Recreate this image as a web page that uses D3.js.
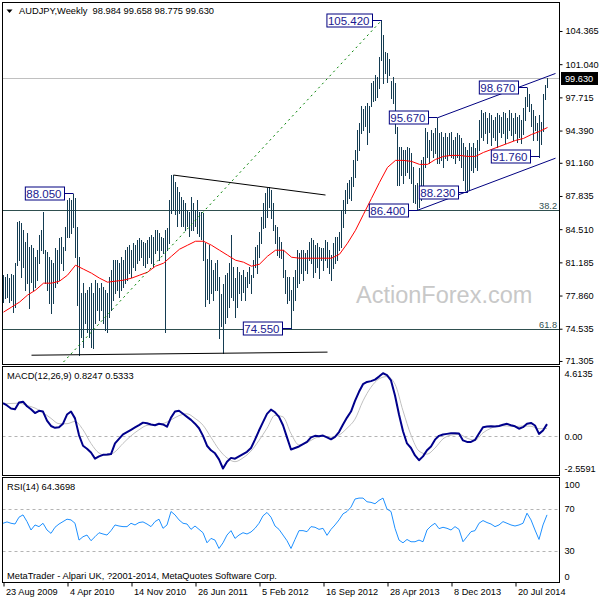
<!DOCTYPE html>
<html>
<head>
<meta charset="utf-8">
<script src="https://cdn.jsdelivr.net/npm/d3@7"></script>
<style>
  body { margin: 0; background: #fff; }
  svg { display: block; font-family: "Liberation Sans", Arial, sans-serif; }
</style>
</head>
<body>
<div id="chart"></div>
<script>
// weekly AUDJPY bars, one per week starting 23 Aug 2009
const highs = [
  79.92, 79.75, 80.02, 79.58, 80.02, 79.92, 81.08, 85.26, 85.36, 85.09,
  84.42, 83.26, 84.09, 82.75, 82.92, 82.59, 81.75, 82.42, 83.92, 84.42,
  86.26, 82.42, 82.25, 81.75, 81.42, 81.08, 82.59, 82.42, 83.59, 83.76,
  82.75, 84.76, 87.43, 87.60, 87.43, 88.05, 87.60, 84.76, 81.75, 78.08,
  79.08, 78.08, 78.41, 78.75, 79.08, 78.08, 79.41, 79.08, 78.58, 79.08,
  78.75, 78.41, 78.08, 79.75, 80.42, 81.42, 81.42, 81.42, 81.08, 81.75,
  81.42, 82.42, 82.75, 82.92, 82.42, 83.09, 82.92, 83.42, 83.59, 83.42,
  83.26, 83.09, 83.42, 83.76, 83.92, 83.69, 84.42, 84.42, 84.09, 83.76,
  83.59, 84.42, 84.59, 87.43, 89.90, 89.95, 89.26, 88.76, 88.26, 87.76,
  87.43, 87.10, 86.43, 86.26, 87.76, 87.10, 86.43, 87.43, 86.26, 86.26,
  86.10, 83.10, 81.50, 82.92, 81.42, 80.42, 81.09, 81.42, 79.75, 78.00,
  79.00, 79.92, 80.08, 81.09, 83.93, 80.75, 79.58, 80.75, 80.25, 79.92,
  80.42, 79.75, 80.25, 80.75, 79.92, 81.42, 82.76, 82.92, 84.26, 85.76,
  87.10, 88.10, 88.60, 88.77, 88.43, 87.10, 84.93, 84.76, 83.76, 83.26,
  82.42, 80.42, 79.75, 79.75, 78.41, 79.75, 80.42, 82.42, 82.09, 82.42,
  82.42, 82.09, 82.42, 83.26, 83.59, 83.42, 82.92, 83.09, 82.76, 82.59,
  82.59, 83.42, 83.26, 82.42, 81.92, 83.09, 83.76, 83.76, 84.26, 86.43,
  87.43, 88.43, 89.10, 89.40, 89.70, 91.40, 92.40, 94.40, 95.10, 96.80,
  96.50, 96.90, 97.20, 96.80, 99.20, 99.40, 100.00, 99.80, 101.80, 105.42,
  104.00, 102.30, 102.20, 101.60, 99.40, 99.80, 99.20, 94.70, 92.70, 92.77,
  92.44, 92.44, 92.77, 92.61, 92.11, 90.77, 88.93, 89.10, 90.60, 91.44,
  91.77, 94.61, 94.28, 93.44, 94.44, 94.11, 94.61, 95.67, 94.11, 94.28,
  93.78, 94.11, 93.78, 94.11, 94.28, 93.44, 93.78, 94.11, 93.94, 93.61,
  93.11, 92.77, 92.44, 93.11, 92.77, 93.11, 92.61, 93.44, 95.45, 96.45,
  96.11, 96.28, 95.61, 96.11, 95.95, 95.45, 95.78, 96.11, 95.95, 95.78,
  96.28, 96.11, 95.61, 96.45, 96.11, 95.61, 96.11, 95.78, 95.95, 95.45,
  96.60, 97.80, 98.67, 98.10, 97.10, 96.40, 95.80, 95.10, 95.90, 95.20,
  98.10, 99.00, 99.658
];
const lows = [
  77.24, 77.58, 77.74, 77.24, 77.41, 76.24, 76.74, 80.92, 81.42, 79.75,
  80.75, 78.41, 79.08, 76.57, 79.25, 78.41, 78.75, 79.41, 81.08, 82.42,
  82.09, 79.08, 78.41, 77.08, 76.07, 77.08, 78.75, 79.08, 79.41, 81.08,
  80.42, 82.42, 83.76, 83.76, 84.09, 84.76, 81.75, 76.91, 71.90, 73.74,
  72.73, 75.07, 74.24, 73.74, 72.73, 72.57, 75.07, 76.41, 75.41, 76.41,
  75.07, 74.40, 74.24, 75.74, 76.41, 77.41, 78.08, 78.41, 77.74, 78.41,
  78.75, 79.08, 79.41, 80.08, 79.75, 80.75, 80.42, 81.08, 81.42, 81.75,
  80.92, 80.75, 81.08, 81.75, 81.08, 80.75, 82.09, 82.42, 81.42, 82.42,
  82.09, 74.24, 82.42, 83.09, 86.10, 86.40, 86.00, 84.80, 86.10, 84.80,
  84.80, 84.40, 84.80, 83.80, 84.40, 84.40, 84.80, 84.10, 83.80, 83.50,
  81.42, 76.80, 77.50, 77.10, 78.10, 77.40, 78.40, 78.40, 73.57, 74.80,
  72.07, 75.10, 75.70, 76.70, 77.70, 77.41, 75.74, 76.74, 78.08, 77.41,
  78.25, 77.41, 78.75, 79.08, 78.08, 79.75, 80.75, 80.08, 81.75, 83.09,
  84.59, 84.76, 85.76, 86.76, 85.60, 84.43, 83.09, 81.92, 81.75, 81.59,
  79.75, 78.08, 77.08, 77.41, 74.55, 76.41, 77.41, 78.75, 79.08, 80.08,
  79.42, 80.42, 80.08, 81.42, 81.09, 79.75, 80.25, 80.75, 79.58, 81.42,
  80.42, 81.42, 80.75, 80.08, 79.42, 80.59, 81.09, 81.42, 82.42, 82.76,
  84.76, 86.10, 87.10, 87.60, 87.40, 88.80, 89.70, 91.40, 92.40, 94.10,
  94.40, 94.80, 93.00, 94.20, 96.80, 97.40, 97.50, 97.80, 98.70, 101.50,
  99.20, 100.20, 99.30, 100.00, 97.70, 97.20, 94.10, 88.90, 88.90, 89.93,
  89.10, 89.93, 90.27, 89.60, 89.10, 87.26, 87.10, 86.40, 86.77, 87.43,
  87.76, 90.77, 91.77, 91.10, 92.44, 91.77, 92.11, 91.10, 91.10, 91.44,
  90.77, 91.60, 91.44, 91.94, 91.77, 91.60, 91.10, 91.77, 91.44, 90.77,
  89.43, 88.43, 88.23, 88.43, 90.44, 90.27, 90.77, 90.44, 92.44, 93.78,
  93.44, 94.11, 93.11, 94.28, 92.94, 93.78, 93.44, 92.77, 94.28, 93.78,
  94.11, 93.11, 93.61, 94.44, 93.94, 93.44, 94.11, 93.27, 93.78, 93.11,
  94.00, 95.40, 96.80, 96.30, 94.80, 93.40, 94.40, 93.40, 91.76, 93.00,
  94.30, 97.60, 98.775
];

// moving average read every 4 weeks
const maStep = 4;
const maValues = [
  76.2, 76.7, 77.2, 77.9, 78.4, 79.1, 79.1, 79.3, 79.9, 80.9,
  80.5, 80.1, 79.6, 79.2, 79.3, 79.4, 79.6, 79.9, 80.2, 80.8,
  81.1, 81.8, 82.5, 82.9, 83.3, 83.3, 82.9, 82.4, 81.9, 81.4,
  81.2, 80.8, 81.0, 81.8, 82.4, 82.4, 81.7, 81.6, 81.6, 81.6,
  81.6, 81.6, 82.0, 83.1, 84.4, 86.0, 87.6, 89.2, 90.7, 91.4,
  91.4, 91.3, 91.0, 91.0, 91.5, 91.8, 91.9, 91.9, 91.8, 91.8,
  92.2, 92.5, 92.8, 93.1, 93.4, 93.6, 94.0, 94.3, 94.7
];

// MACD main read every 2 weeks, signal every 4 weeks
const macdStep = 2;
const macdMain = [
  2.20, 2.05, 1.85, 1.80, 2.25, 2.30, 2.00, 1.80, 1.55, 1.70,
  1.65, 1.05, 0.70, 0.58, 0.62, 0.85, 1.45, 1.65, 1.20, 0.10,
  -0.60, -0.80, -1.05, -1.45, -1.30, -1.20, -1.18, -1.15, -0.45, -0.15,
  0.15, 0.30, 0.45, 0.60, 0.75, 0.92, 0.88, 0.80, 0.75, 0.85,
  0.80, 0.65, 1.25, 1.65, 1.70, 1.50, 1.30, 1.10, 0.85, 0.55,
  0.05, -0.60, -0.90, -1.10, -1.50, -2.10, -1.65, -1.40, -1.45, -1.30,
  -1.15, -1.00, -0.75, -0.20, 0.40, 0.95, 1.50, 1.78, 1.60, 1.30,
  0.75, -0.05, -0.85, -0.75, -0.65, -0.50, -0.35, -0.05, 0.05, 0.02,
  0.07, -0.05, -0.18, -0.02, 0.30, 0.80, 1.25, 1.65, 2.35, 2.95,
  3.45, 3.60, 3.65, 3.75, 3.95, 4.17, 4.05, 3.70, 2.70, 1.45,
  0.35, -0.45, -0.75, -1.24, -1.55, -1.30, -0.90, -0.65, -0.20, 0.05,
  0.14, 0.18, 0.22, 0.22, 0.20, -0.25, -0.35, -0.35, -0.22, 0.20,
  0.62, 0.66, 0.68, 0.66, 0.70, 0.78, 0.84, 0.75, 0.68, 0.52,
  0.62, 0.85, 0.90, 0.73, 0.18, 0.40, 0.82
];
const signalStep = 4;
const macdSignal = [
  2.16, 2.18, 2.20, 2.05, 1.88, 1.58, 1.20, 0.85, 0.85, 1.00,
  0.45, -0.45, -1.08, -1.25, -1.00, -0.45, 0.05, 0.45, 0.74, 0.80,
  0.86, 1.10, 1.38, 1.50, 1.20, 0.75, -0.05, -0.85, -1.40, -1.65,
  -1.40, -0.95, -0.25, 0.55, 1.40, 1.30, 0.20, -0.55, -0.40, -0.10,
  0.02, -0.04, 0.10, 0.55, 1.15, 2.35, 3.25, 3.80, 3.95, 3.45,
  1.70, 0.10, -0.95, -1.15, -0.75, -0.15, 0.10, 0.15, -0.10, -0.24,
  0.25, 0.55, 0.72, 0.70, 0.66, 0.70, 0.68, 0.52, 0.53
];

// RSI(14) read every 2 weeks
const rsiStep = 2;
const rsiValues = [
  56.4, 57.7, 56.4, 55.7, 62.2, 64.4, 58.0, 50.0, 54.8, 53.2,
  56.4, 50.0, 46.8, 52.6, 55.7, 58.0, 60.3, 59.6, 56.4, 40.4,
  43.6, 45.2, 39.8, 43.6, 47.4, 46.2, 45.2, 49.4, 54.8, 53.8,
  53.2, 53.2, 56.4, 54.8, 57.1, 57.7, 55.7, 53.2, 58.0, 60.3,
  51.6, 54.8, 67.6, 64.4, 59.6, 56.4, 55.7, 50.6, 53.8, 50.6,
  47.4, 37.8, 42.0, 40.4, 32.4, 37.8, 45.2, 49.4, 42.0, 45.2,
  47.4, 46.2, 48.1, 51.6, 56.4, 63.5, 66.7, 62.2, 53.8, 50.6,
  45.2, 39.8, 32.4, 41.0, 49.4, 49.4, 48.4, 53.2, 52.6, 50.6,
  51.6, 44.9, 50.6, 54.8, 59.6, 65.4, 67.6, 71.8, 79.5, 80.4,
  80.4, 76.9, 76.3, 75.0, 78.2, 80.4, 69.9, 67.6, 51.6, 40.4,
  37.8, 41.0, 38.8, 38.8, 40.4, 38.8, 50.0, 53.8, 56.4, 51.3,
  52.6, 51.6, 50.0, 53.2, 50.6, 38.8, 43.6, 48.4, 49.4, 56.4,
  59.0, 57.1, 55.7, 53.2, 54.8, 58.0, 56.4, 54.8, 53.8, 54.8,
  56.4, 66.0, 59.6, 50.0, 41.0, 54.8, 64.4
];

const priceTicks = [104.365, 101.040, 97.715, 94.390, 91.160, 87.835, 84.510, 81.185, 77.860, 74.535, 71.305];
const macdTicks = [4.6135, 0, -2.5591];
const macdTickLabels = ["4.6135", "0.00", "-2.5591"];
const rsiTicks = [100, 70, 30, 0];
const dateTickIdx = [0, 32, 64, 96, 128, 160, 192, 224, 256];
const dateTickLabels = ["23 Aug 2009", "4 Apr 2010", "14 Nov 2010", "26 Jun 2011", "5 Feb 2012",
  "16 Sep 2012", "28 Apr 2013", "8 Dec 2013", "20 Jul 2014"];

// swing labels: text, bar index, price
const pivotTexts = ["88.050", "74.550", "105.420", "86.400", "95.670", "88.230", "91.760", "98.670"];
const pivotBars = [35, 144, 189, 207, 217, 232, 268, 262];
const pivotPrices = [88.05, 74.55, 105.42, 86.40, 95.67, 88.23, 91.76, 98.67];

const fibNames = ["38.2", "61.8"];
const fibPrices = [86.36, 74.42];
const lastPrice = 99.63;

// drawn objects as [bar, price] pairs
const fanLine = [[30, 71.2], [189, 105.42]];
const triangleTop = [[85, 89.93], [161, 87.93]];
const triangleBottom = [[14, 71.88], [162, 72.19]];
const channelTop = [[217, 95.67], [276, 100.11]];
const channelBottom = [[207, 86.40], [276, 91.62]];

const L = 2.5, R = 559.5;
const mainTop = 2.5, mainBottom = 364.5;
const macdTop = 366.5, macdBottom = 475.5;
const rsiTop = 477.5, rsiBottom = 582.5;
const fontSmall = 9.2;

const x = d3.scaleLinear().domain([0, 278]).range([3, 559]);
const yPrice = d3.scaleLinear().domain([70.95, 107.22]).range([mainBottom, mainTop]);
const yMacd = d3.scaleLinear().domain([-2.5591, 4.6135]).range([macdBottom, macdTop]);
const yRsi = d3.scaleLinear().domain([0, 100]).range([rsiBottom, rsiTop]);
const crisp = v => Math.round(v - 0.5) + 0.5;

const svg = d3.select("#chart").append("svg")
    .attr("width", 600).attr("height", 600);
svg.append("rect").attr("width", 600).attr("height", 600).attr("fill", "#fff");

const defs = svg.append("defs");
function clip(id, top, bottom) {
    defs.append("clipPath").attr("id", id).append("rect")
        .attr("x", L).attr("y", top).attr("width", R - L).attr("height", bottom - top);
}
clip("clipMain", mainTop, mainBottom);
clip("clipMacd", macdTop, macdBottom);
clip("clipRsi", rsiTop, rsiBottom);

// ---------- main panel
const main = svg.append("g").attr("clip-path", "url(#clipMain)");

main.append("text")
    .attr("x", 356).attr("y", 303)
    .attr("font-size", 23.5)
    .attr("fill", "#c8c8c8")
    .text("ActionForex.com");

main.append("line")
    .attr("x1", L).attr("x2", R)
    .attr("y1", crisp(yPrice(lastPrice))).attr("y2", crisp(yPrice(lastPrice)))
    .attr("stroke", "#c0c0c0");

fibPrices.forEach((p, k) => {
    const yy = crisp(yPrice(p));
    main.append("line")
        .attr("x1", L).attr("x2", R).attr("y1", yy).attr("y2", yy)
        .attr("stroke", "#2f4f4f");
    main.append("text")
        .attr("x", 557).attr("y", yy - 2)
        .attr("text-anchor", "end")
        .attr("font-size", fontSmall)
        .attr("fill", "#2f4f4f")
        .text(fibNames[k]);
});

main.append("g")
    .selectAll("line")
    .data(highs)
    .join("line")
    .attr("x1", (d, i) => x(i) + 0.5)
    .attr("x2", (d, i) => x(i) + 0.5)
    .attr("y1", d => Math.round(yPrice(d)))
    .attr("y2", (d, i) => Math.round(yPrice(lows[i])) + 1)
    .attr("stroke", "#143c52")
    .attr("shape-rendering", "crispEdges");

main.append("path")
    .datum(maValues)
    .attr("d", d3.line().x((d, k) => x(k * maStep) + 0.5).y(d => yPrice(d)))
    .attr("fill", "none")
    .attr("stroke", "#ff0000")
    .attr("stroke-width", 1);

function segment(pts, color, dash) {
    main.append("line")
        .attr("x1", x(pts[0][0]) + 0.5).attr("y1", yPrice(pts[0][1]))
        .attr("x2", x(pts[1][0]) + 0.5).attr("y2", yPrice(pts[1][1]))
        .attr("stroke", color)
        .attr("stroke-width", 1)
        .attr("stroke-dasharray", dash || null);
}
segment(fanLine, "#008000", "2,3.5");
segment(triangleTop, "#000000");
segment(triangleBottom, "#000000");
segment(channelTop, "#000080");
segment(channelBottom, "#000080");

pivotTexts.forEach((t, k) => {
    const bx = x(pivotBars[k]) + 0.5;
    const by = crisp(yPrice(pivotPrices[k]));
    const g = main.append("g");
    const rect = g.append("rect");
    const txt = g.append("text")
        .attr("font-size", 11.5)
        .attr("fill", "#1a1a90")
        .attr("text-anchor", "end")
        .attr("x", bx - 12)
        .attr("y", by + 4)
        .text(t);
    const w = txt.node().getComputedTextLength();
    const right = Math.round(bx - 10) + 0.5;
    rect.attr("x", right - w - 4).attr("y", by - 6.5)
        .attr("width", w + 4).attr("height", 13)
        .attr("fill", "#fff").attr("stroke", "#000080");
    g.append("line")
        .attr("x1", right).attr("x2", bx).attr("y1", by).attr("y2", by)
        .attr("stroke", "#000080");
});

// header
svg.append("path")
    .attr("d", "M6.5,9.5 L12.5,9.5 L9.5,13 Z")
    .attr("fill", "#000");
svg.append("text")
    .attr("x", 19).attr("y", 14)
    .attr("font-size", 9.3)
    .attr("xml:space", "preserve")
    .style("white-space", "pre")
    .text("AUDJPY,Weekly  98.984 99.658 98.775 99.630");

// ---------- MACD panel
const macd = svg.append("g").attr("clip-path", "url(#clipMacd)");
macd.append("line")
    .attr("x1", L).attr("x2", R)
    .attr("y1", crisp(yMacd(0))).attr("y2", crisp(yMacd(0)))
    .attr("stroke", "#b4b4b4").attr("stroke-dasharray", "3,3");
macd.append("path")
    .datum(macdSignal)
    .attr("d", d3.line().curve(d3.curveMonotoneX).x((d, k) => x(k * signalStep)).y(d => yMacd(d)))
    .attr("fill", "none").attr("stroke", "#c0c0c0").attr("stroke-width", 1);
macd.append("path")
    .datum(macdMain)
    .attr("d", d3.line().x((d, k) => x(k * macdStep)).y(d => yMacd(d)))
    .attr("fill", "none").attr("stroke", "#00008b").attr("stroke-width", 2)
    .attr("stroke-linejoin", "round");
svg.append("text")
    .attr("x", 7).attr("y", 378.7)
    .attr("font-size", 9.3)
    .text("MACD(12,26,9) 0.8247 0.5333");

// ---------- RSI panel
const rsi = svg.append("g").attr("clip-path", "url(#clipRsi)");
[70, 30].forEach(v => {
    rsi.append("line")
        .attr("x1", L).attr("x2", R)
        .attr("y1", crisp(yRsi(v))).attr("y2", crisp(yRsi(v)))
        .attr("stroke", "#b4b4b4").attr("stroke-dasharray", "3,3");
});
rsi.append("path")
    .datum(rsiValues)
    .attr("d", d3.line().x((d, k) => x(k * rsiStep)).y(d => yRsi(d)))
    .attr("fill", "none").attr("stroke", "#1e90ff").attr("stroke-width", 1);
svg.append("text")
    .attr("x", 7).attr("y", 489.5)
    .attr("font-size", 9.3)
    .text("RSI(14) 64.3698");
svg.append("text")
    .attr("x", 7).attr("y", 578.5)
    .attr("font-size", 9.3)
    .text("MetaTrader - Alpari UK, ?2001-2014, MetaQuotes Software Corp.");

// ---------- frames
[[mainTop, mainBottom], [macdTop, macdBottom], [rsiTop, rsiBottom]].forEach(p => {
    svg.append("rect")
        .attr("x", L).attr("y", p[0])
        .attr("width", R - L).attr("height", p[1] - p[0])
        .attr("fill", "none").attr("stroke", "#000");
});

// ---------- axes
function styleAxis(g) {
    g.select(".domain").remove();
    g.attr("font-family", null).attr("font-size", fontSmall);
    g.selectAll("line").attr("stroke", "#000");
    g.selectAll("text").attr("fill", "#000");
}

svg.append("g")
    .attr("transform", `translate(${R},0)`)
    .call(d3.axisRight(yPrice).tickValues(priceTicks).tickFormat(d3.format(".3f")).tickSize(3).tickPadding(3))
    .call(styleAxis);

const macdAxis = svg.append("g")
    .attr("transform", `translate(${R},0)`)
    .call(d3.axisRight(yMacd).tickValues(macdTicks).tickFormat((d, k) => macdTickLabels[k]).tickSize(0).tickPadding(5))
    .call(styleAxis);
macdAxis.selectAll(".tick text").attr("dy", (d, k) => k === 0 ? "1.05em" : k === 2 ? "-0.45em" : "0.32em");

const rsiAxis = svg.append("g")
    .attr("transform", `translate(${R},0)`)
    .call(d3.axisRight(yRsi).tickValues(rsiTicks).tickSize(0).tickPadding(5))
    .call(styleAxis);
rsiAxis.selectAll(".tick text").attr("dy", d => d === 100 ? "1.05em" : d === 0 ? "-0.3em" : "0.32em");

// last price box on the scale
svg.append("rect")
    .attr("x", 561).attr("y", crisp(yPrice(lastPrice)) - 6.5)
    .attr("width", 37).attr("height", 13)
    .attr("fill", "#000");
svg.append("text")
    .attr("x", 565).attr("y", crisp(yPrice(lastPrice)) + 3.5)
    .attr("font-size", fontSmall)
    .attr("fill", "#fff")
    .text(d3.format(".3f")(lastPrice));

const dateAxis = svg.append("g")
    .attr("transform", `translate(0.5,${rsiBottom})`)
    .call(d3.axisBottom(x).tickValues(dateTickIdx).tickFormat((d, k) => dateTickLabels[k]).tickSize(4).tickPadding(2))
    .call(styleAxis);
dateAxis.selectAll(".tick text").attr("text-anchor", "start").attr("x", 2);
</script>
</body>
</html>
